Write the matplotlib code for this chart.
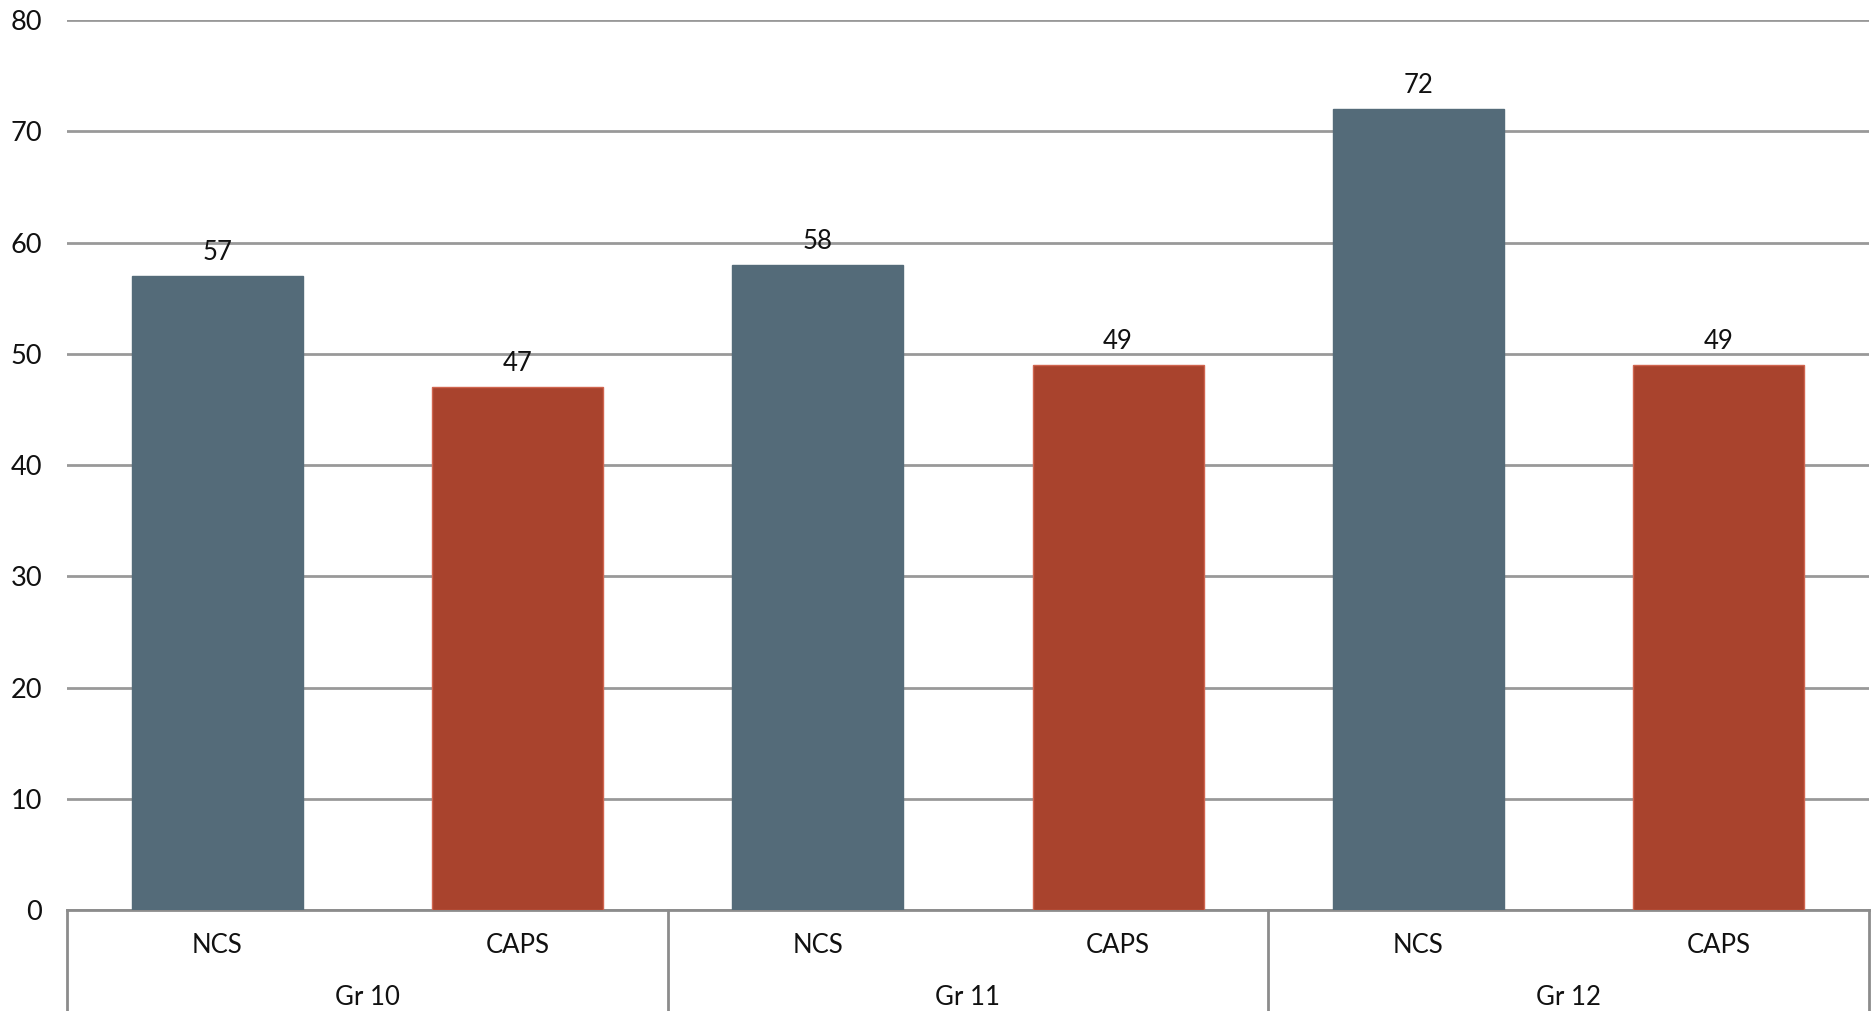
import matplotlib.pyplot as plt
import matplotlib.transforms as mtransforms

groups = ["Gr 10", "Gr 11", "Gr 12"]
categories = ["NCS", "CAPS"]
ncs_values = [57, 58, 72]
caps_values = [47, 49, 49]
y_ticks = [0, 10, 20, 30, 40, 50, 60, 70, 80]

plt.rcParams['font.family'] = ['Lato', 'DejaVu Sans']

fig = plt.figure(figsize=(18.75, 10.11), dpi=100)
ax = fig.add_axes([0.0357, 0.0999, 0.9611, 0.8803])

ncs_color = '#546B79'
caps_color = '#A9432D'

labels = []
values = []
colors = []
edges = []
for i, g in enumerate(groups):
    labels += categories
    values += [ncs_values[i], caps_values[i]]
    colors += [ncs_color, caps_color]
    edges += [ncs_color, '#D0654F']

xs = list(range(len(values)))
bars = ax.bar(xs, values, width=0.57, color=colors, edgecolor=edges, linewidth=1.0, zorder=3)
for b, v in zip(bars, values):
    ax.annotate(str(v), (b.get_x() + b.get_width() / 2, v), xytext=(0, 8),
                textcoords='offset points', ha='center', va='bottom', fontsize=18.5, color='#111111', zorder=4)

ax.set_xlim(-0.5, len(values) - 0.5)
ax.set_ylim(0, 80)
ax.set_yticks(y_ticks)
ax.tick_params(axis='y', length=0, pad=18, labelsize=19.5, labelcolor='#111111')
ax.set_xticks([])
for s in ['top', 'right', 'left']:
    ax.spines[s].set_visible(False)
ax.spines['bottom'].set_color('#8c8c8c')
ax.spines['bottom'].set_linewidth(2)
ax.yaxis.grid(True, color='#999999', linewidth=2)
ax.set_axisbelow(True)

# two-level category axis below the plot
trans = mtransforms.blended_transform_factory(ax.transData, ax.transAxes)
for x, lab in zip(xs, labels):
    ax.text(x, -0.04, lab, transform=trans, ha='center', va='center', fontsize=18.5, color='#111111')
for i, g in enumerate(groups):
    ax.text(2 * i + 0.5, -0.098, g, transform=trans, ha='center', va='center', fontsize=18.5, color='#111111')
for k in range(len(groups) + 1):
    ax.plot([2 * k - 0.5, 2 * k - 0.5], [0, -0.12], transform=trans, color='#8c8c8c',
            linewidth=2, clip_on=False)

fig.savefig('out.png', dpi=100)
